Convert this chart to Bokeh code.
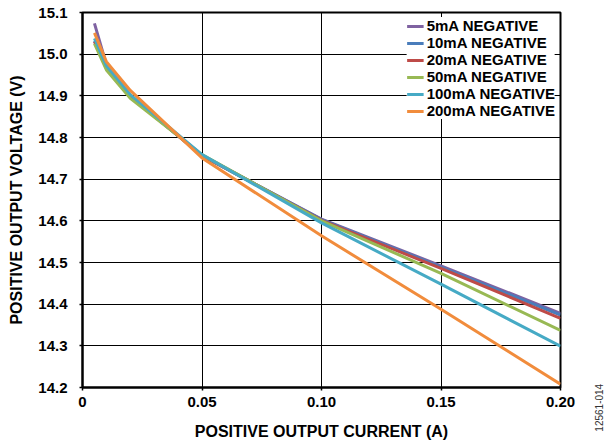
import math
from bokeh.plotting import figure
from bokeh.models import FixedTicker, Legend, LegendItem, Label
from bokeh.embed import file_html
from bokeh.resources import INLINE

# ---- data ----
current_a = [0.005, 0.01, 0.02, 0.05, 0.10, 0.15, 0.20]
v_5ma = [15.074, 14.975, 14.900, 14.756, 14.604, 14.492, 14.378]
v_10ma = [15.032, 14.972, 14.899, 14.757, 14.603, 14.489, 14.374]
v_20ma = [15.030, 14.970, 14.898, 14.757, 14.601, 14.486, 14.366]
v_50ma = [15.025, 14.962, 14.894, 14.759, 14.600, 14.474, 14.337]
v_100ma = [15.038, 14.972, 14.903, 14.759, 14.595, 14.448, 14.299]
v_200ma = [15.051, 14.982, 14.913, 14.751, 14.564, 14.388, 14.208]

series_names = ["5mA NEGATIVE", "10mA NEGATIVE", "20mA NEGATIVE",
                "50mA NEGATIVE", "100mA NEGATIVE", "200mA NEGATIVE"]
series_values = [v_5ma, v_10ma, v_20ma, v_50ma, v_100ma, v_200ma]
series_colors = ["#7F62A1", "#4A7DBB", "#BE4B48", "#98B954", "#46AAC5", "#F18C3C"]

x_ticks = [0, 0.05, 0.10, 0.15, 0.20]
x_tick_labels = ["0", "0.05", "0.10", "0.15", "0.20"]
y_ticks = [14.2, 14.3, 14.4, 14.5, 14.6, 14.7, 14.8, 14.9, 15.0, 15.1]
y_tick_labels = ["14.2", "14.3", "14.4", "14.5", "14.6", "14.7", "14.8", "14.9", "15.0", "15.1"]

FONT = "Liberation Sans"

p = figure(width=614, height=444, output_backend="svg", toolbar_location=None,
           x_range=(0, 0.2), y_range=(14.2, 15.1),
           min_border_left=82, min_border_top=12, min_border_right=54, min_border_bottom=57)

renderers = []
for name, vals, col in zip(series_names, series_values, series_colors):
    r = p.line(current_a, vals, line_color=col, line_width=3)
    renderers.append((name, r))

# axes
p.xaxis.ticker = FixedTicker(ticks=x_ticks)
p.yaxis.ticker = FixedTicker(ticks=y_ticks)
p.xaxis.major_label_overrides = dict(zip(x_ticks, x_tick_labels))
p.yaxis.major_label_overrides = dict(zip(y_ticks, y_tick_labels))
for ax in (p.xaxis, p.yaxis):
    ax.axis_line_color = "black"
    ax.axis_line_width = 2
    ax.major_tick_line_color = "black"
    ax.major_tick_line_width = 1.5
    ax.major_tick_in = 0
    ax.major_tick_out = 3
    ax.minor_tick_line_color = None
    ax.major_label_text_font = FONT
    ax.major_label_text_font_style = "bold"
    ax.major_label_text_font_size = "15px"
    ax.major_label_text_color = "black"
    ax.axis_label_text_font = FONT
    ax.axis_label_text_font_style = "bold"
    ax.axis_label_text_font_size = "16px"
    ax.axis_label_text_color = "black"
p.xaxis.axis_label = "POSITIVE OUTPUT CURRENT (A)"
p.yaxis.axis_label = "POSITIVE OUTPUT VOLTAGE (V)"
p.xaxis.major_label_standoff = 6
p.xaxis.axis_label_standoff = 13
p.yaxis.major_label_standoff = 12
p.yaxis.axis_label_standoff = 10

# grid
for g in (p.xgrid, p.ygrid):
    g.grid_line_color = "black"
    g.grid_line_width = 1
    g.grid_line_alpha = 1.0
p.outline_line_color = "black"
p.outline_line_width = 2
p.outline_line_alpha = 1.0

# legend
legend = Legend(items=[LegendItem(label=n, renderers=[r]) for n, r in renderers],
                location="top_right")
legend.label_text_font = FONT
legend.label_text_font_style = "bold"
legend.label_text_font_size = "15px"
legend.label_text_line_height = 1.0
legend.label_text_color = "black"
legend.label_height = 14
legend.glyph_height = 14
legend.glyph_width = 17
legend.label_standoff = 3
legend.spacing = 0
legend.padding = 3
legend.margin = 5
legend.border_line_color = None
legend.background_fill_color = "white"
legend.background_fill_alpha = 1.0
p.add_layout(legend)

# figure id text, placed in the right side panel so it is not clipped by the frame
p.add_layout(Label(x=0.2159, y=14.094, text="12561-014", angle=math.pi / 2,
                   text_align="left", text_baseline="middle",
                   text_font=FONT, text_font_size="10px", text_color="#333333"),
             "right")

open("out.html", "w").write(file_html(p, INLINE))
